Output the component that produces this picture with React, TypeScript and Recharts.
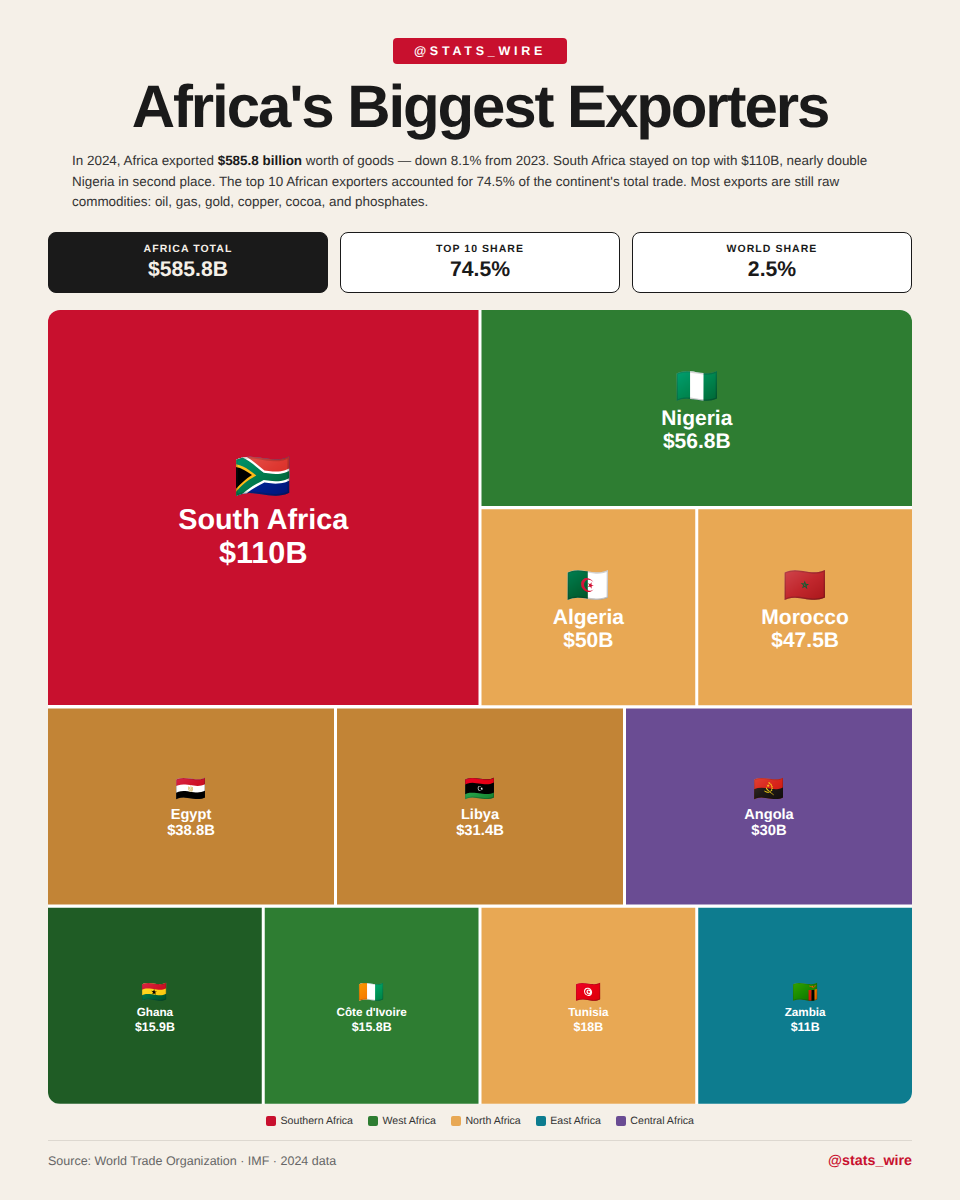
import { BarChart, Bar, XAxis, YAxis } from "recharts"

const countries = ["South Africa", "Nigeria", "Algeria", "Morocco", "Egypt", "Libya", "Angola", "Ghana", "Côte d'Ivoire", "Tunisia", "Zambia"]
const exportLabels = ["$110B", "$56.8B", "$50B", "$47.5B", "$38.8B", "$31.4B", "$30B", "$15.9B", "$15.8B", "$18B", "$11B"]
const flags = ["🇿🇦", "🇳🇬", "🇩🇿", "🇲🇦", "🇪🇬", "🇱🇾", "🇦🇴", "🇬🇭", "🇨🇮", "🇹🇳", "🇿🇲"]
const tileColors = ["#c8102e", "#2e7d32", "#e8a854", "#e8a854", "#c28436", "#c28436", "#6a4c93", "#1f5c25", "#2e7d32", "#e8a854", "#0d7c8f"]
const tileSizes = [0, 1, 1, 1, 2, 2, 2, 3, 3, 3, 3]

// share of each grid row that a tile takes, out of 12
const rowNames = ["a", "b", "c", "d"]
const rowSpans = [
  [6, 6, 0, 0, 0, 0, 0, 0, 0, 0, 0],
  [6, 0, 3, 3, 0, 0, 0, 0, 0, 0, 0],
  [0, 0, 0, 0, 4, 4, 4, 0, 0, 0, 0],
  [0, 0, 0, 0, 0, 0, 0, 3, 3, 3, 3],
]

const legendNames = ["Southern Africa", "West Africa", "North Africa", "East Africa", "Central Africa"]
const legendColors = ["#c8102e", "#2e7d32", "#e8a854", "#0d7c8f", "#6a4c93"]

const stats = [
  { label: "AFRICA TOTAL", value: "$585.8B" },
  { label: "TOP 10 SHARE", value: "74.5%" },
  { label: "WORLD SHARE", value: "2.5%" },
]

const type = [
  { flag: 46, name: 28.8, value: 30.6, flagUp: -36, nameDown: 21, valueDown: 55.5 },
  { flag: 35, name: 21, value: 21, flagUp: -26, nameDown: 17, valueDown: 39.5 },
  { flag: 25, name: 14.6, value: 14.8, flagUp: -21, nameDown: 12, valueDown: 28 },
  { flag: 21, name: 11.7, value: 12.4, flagUp: -16, nameDown: 10, valueDown: 25 },
]

const chartData = rowNames.map((row, r) => {
  const entry: Record<string, string | number> = { row }
  countries.forEach((c, i) => { entry[c] = rowSpans[r][i] })
  return entry
})

const GAP = 1.5

function makeTile(index: number) {
  return function Tile(props: any) {
    const { x, y, width, height, payload } = props
    if (!width || width <= 0) return <g />
    // South Africa covers two grid rows, it is only drawn from the first one
    if (index === 0 && payload.row === "b") return <g />
    const h = index === 0 ? height * 2 : height
    const size = type[tileSizes[index]]
    const cx = x + width / 2
    const cy = y + h / 2
    return (
      <g>
        <rect x={x + GAP} y={y + GAP} width={width - GAP * 2} height={h - GAP * 2} fill={tileColors[index]} />
        <text x={cx} y={cy + size.flagUp + size.flag * 0.45} textAnchor="middle" fontSize={size.flag} fontFamily="'Noto Color Emoji', sans-serif">{flags[index]}</text>
        <text x={cx} y={cy + size.nameDown} textAnchor="middle" fontSize={size.name} fontWeight={700} fill="#fff" fontFamily="'Liberation Sans', Arial, sans-serif">{countries[index]}</text>
        <text x={cx} y={cy + size.valueDown} textAnchor="middle" fontSize={size.value} fontWeight={700} fill="#fff" fontFamily="'Liberation Sans', Arial, sans-serif">{exportLabels[index]}</text>
      </g>
    )
  }
}

export default function App() {
  return (
    <div style={{ position: "absolute", left: 0, top: 0, width: 960, height: 1200, background: "#f5f0e8", fontFamily: "'Liberation Sans', Arial, sans-serif", color: "#1a1a1a", overflow: "hidden", textRendering: "geometricPrecision" }}>
      <div style={{ position: "absolute", left: 393, top: 38, width: 174, height: 26, boxSizing: "border-box", background: "#c8102e", borderRadius: 4, color: "#fff", fontSize: 12.5, fontWeight: 700, letterSpacing: 3.75, lineHeight: "26px", textAlign: "center" }}>@STATS_WIRE</div>
      <div style={{ position: "absolute", left: 0, top: 70, width: 960, textAlign: "center", fontSize: 60, fontWeight: 700, letterSpacing: -2.1, lineHeight: "74px" }}>Africa's Biggest Exporters</div>
      <div style={{ position: "absolute", left: 72, top: 151, width: 816, fontSize: 13.45, lineHeight: "20.5px", color: "#333" }}>
        In 2024, Africa exported <b style={{ color: "#1a1a1a" }}>$585.8 billion</b> worth of goods — down 8.1% from 2023. South Africa stayed on top with $110B, nearly double Nigeria in second place. The top 10 African exporters accounted for 74.5% of the continent's total trade. Most exports are still raw commodities: oil, gas, gold, copper, cocoa, and phosphates.
      </div>

      {stats.map((s, i) => (
        <div key={s.label} style={{ position: "absolute", left: 48 + i * 292, top: 232, width: 280, height: 61, boxSizing: "border-box", borderRadius: 8, border: "1px solid #1a1a1a", background: i === 0 ? "#1a1a1a" : "#fff", color: i === 0 ? "#f5f0e8" : "#1a1a1a", textAlign: "center" }}>
          <div style={{ position: "absolute", left: 0, right: 0, top: 9, fontSize: 10.5, fontWeight: 700, letterSpacing: 1.05, lineHeight: "14px" }}>{s.label}</div>
          <div style={{ position: "absolute", left: 0, right: 0, top: 24, fontSize: 21.2, fontWeight: 700, lineHeight: "26px" }}>{s.value}</div>
        </div>
      ))}

      <div style={{ position: "absolute", left: 48, top: 310, width: 864, height: 794, borderRadius: 12, overflow: "hidden", background: "#fff" }}>
        <div style={{ position: "absolute", left: -2, top: -2 }}>
          <BarChart
            layout="vertical"
            width={868}
            height={798}
            data={chartData}
            margin={{ top: 0.5, right: 0.5, bottom: 0.5, left: 0.5 }}
            barCategoryGap={0}
          >
            <XAxis type="number" domain={[0, 12]} hide />
            <YAxis type="category" dataKey="row" hide />
            {countries.map((c, i) => (
              <Bar key={c} dataKey={c} stackId="tiles" isAnimationActive={false} shape={makeTile(i)} />
            ))}
          </BarChart>
        </div>
      </div>

      <div style={{ position: "absolute", left: 0, top: 1114, width: 960, display: "flex", justifyContent: "center", gap: 15, fontSize: 10.6, lineHeight: "14px", color: "#333" }}>
        {legendNames.map((n, i) => (
          <span key={n} style={{ display: "flex", alignItems: "center", gap: 4.5 }}>
            <span style={{ width: 10, height: 10, borderRadius: 2, background: legendColors[i], display: "inline-block" }} />
            {n}
          </span>
        ))}
      </div>

      <div style={{ position: "absolute", left: 48, top: 1140, width: 864, height: 1, background: "#ddd8d0" }} />
      <div style={{ position: "absolute", left: 48, top: 1153, fontSize: 12.5, lineHeight: "16px", color: "#666" }}>Source: World Trade Organization · IMF · 2024 data</div>
      <div style={{ position: "absolute", right: 48, top: 1153, fontSize: 14.3, fontWeight: 700, lineHeight: "16px", color: "#c8102e" }}>@stats_wire</div>
    </div>
  )
}
